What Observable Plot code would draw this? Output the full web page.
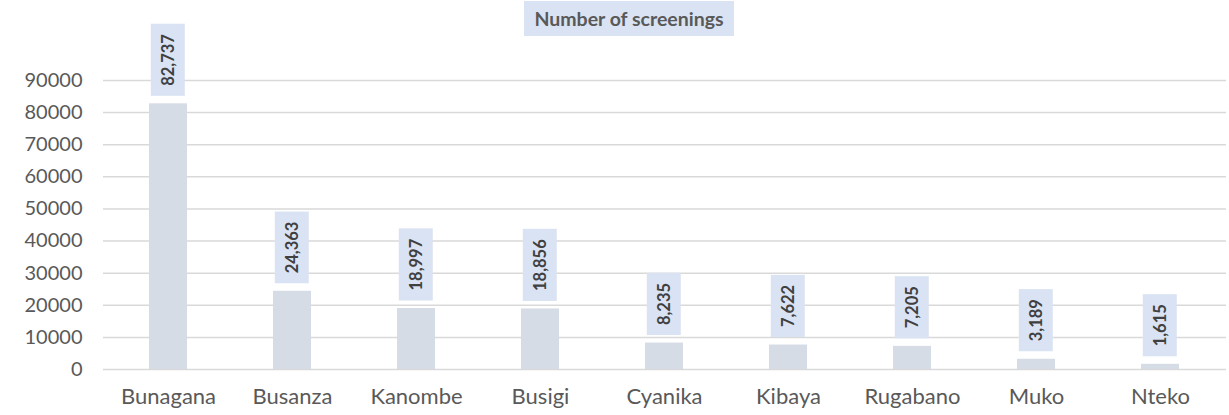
<!DOCTYPE html>
<html><head><meta charset="utf-8">
<script src="https://cdn.jsdelivr.net/npm/d3@7"></script>
<script src="https://cdn.jsdelivr.net/npm/@observablehq/plot@0.6"></script>
<style>
body{margin:0;background:#fff;font-family:Lato,"Open Sans",sans-serif;}
#wrap{position:relative;width:1229px;height:415px;}
#title{position:absolute;z-index:2;left:524px;top:1px;width:210px;height:35px;background:#dae3f3;color:#595959;font:bold 19.5px Lato,sans-serif;display:flex;align-items:center;justify-content:center;}
</style>
</head><body>
<div id="wrap"><div id="title">Number of screenings</div></div>
<script>
const categories = ["Bunagana","Busanza","Kanombe","Busigi","Cyanika","Kibaya","Rugabano","Muko","Nteko"];
const values = [82737,24363,18997,18856,8235,7622,7205,3189,1615];
const yTicks = [0,10000,20000,30000,40000,50000,60000,70000,80000,90000];
const data = categories.map((c,i)=>({c, v: values[i]}));
const fmt = d3.format(",");

const chart = Plot.plot({
  width: 1229, height: 415,
  marginLeft: 103, marginRight: 3, marginTop: 80, marginBottom: 46,
  style: {fontFamily: "Lato, 'Open Sans', sans-serif", color: "#595959", background: "transparent"},
  x: {domain: categories, paddingInner: 0.69, paddingOuter: 0.345, label: null, tickSize: 0},
  y: {domain: [0, 90000], ticks: yTicks, label: null, tickSize: 0},
  marks: [
    Plot.ruleY(yTicks, {stroke: "#d9d9d9", strokeWidth: 1.5}),
    Plot.barY(data, {x: "c", y: "v", fill: "#d6dce5"}),
    Plot.axisY({ticks: yTicks, tickSize: 0, tickPadding: 21, fontSize: 20, fill: "#595959", tickFormat: d => String(d), label: null}),
    Plot.axisX({tickSize: 0, tickPadding: 19, fontSize: 22, fill: "#595959", label: null}),
    Plot.text(data, {x: "c", y: "v", text: d => fmt(d.v), rotate: -90, textAnchor: "start", lineAnchor: "middle", dy: -18, fontSize: 16.5, fontWeight: "bold", fill: "#404040", className: "vlabels"})
  ]
});
document.getElementById("wrap").appendChild(chart);
chart.style.position = "absolute"; chart.style.left = "0"; chart.style.top = "0";
chart.querySelectorAll(".vlabels text").forEach(t => {
  const b = t.getBBox();
  const r = document.createElementNS("http://www.w3.org/2000/svg","rect");
  r.setAttribute("x", b.x - 10); r.setAttribute("y", b.y - 7);
  r.setAttribute("width", b.width + 20); r.setAttribute("height", b.height + 14);
  r.setAttribute("fill", "#dae3f3");
  if (t.getAttribute("transform")) r.setAttribute("transform", t.getAttribute("transform"));
  t.parentNode.insertBefore(r, t);
});
</script>
</body></html>
